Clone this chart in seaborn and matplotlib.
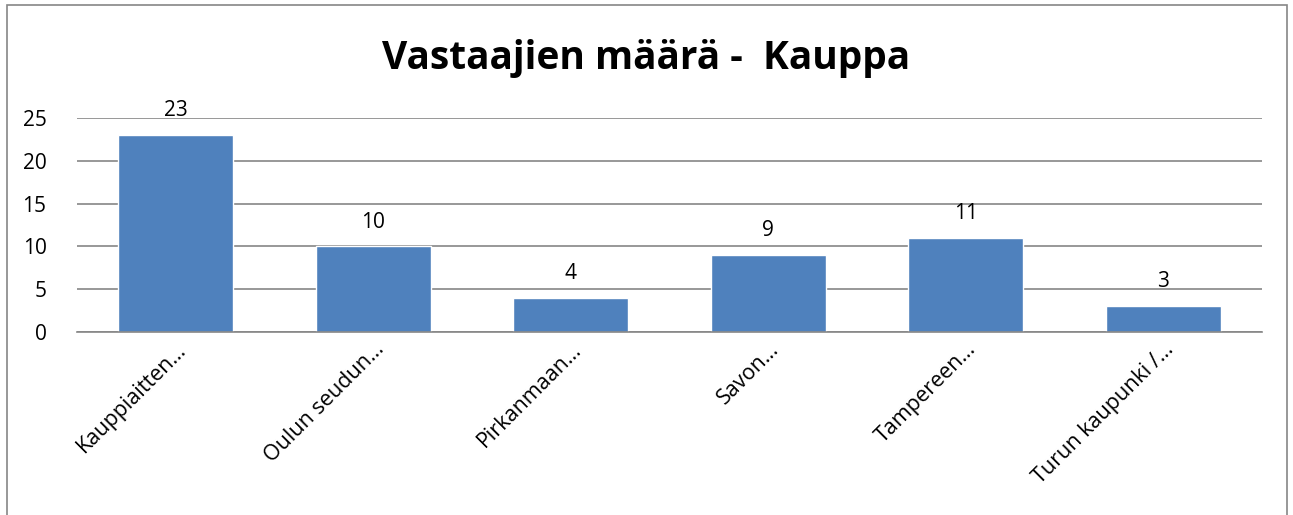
import matplotlib
matplotlib.use("Agg")
import matplotlib.pyplot as plt
import seaborn as sns
import pandas as pd
from matplotlib.patches import Rectangle

categories = ["Kauppiaitten…", "Oulun seudun…", "Pirkanmaan…", "Savon…", "Tampereen…", "Turun kaupunki /…"]
values = [23, 10, 4, 9, 11, 3]
yticks = [0, 5, 10, 15, 20, 25]
title = "Vastaajien määrä -  Kauppa"

sns.set_theme(style="white")
plt.rcParams['font.family'] = ['Open Sans', 'DejaVu Sans']
plt.rcParams['text.color'] = 'black'
plt.rcParams['xtick.color'] = 'black'
plt.rcParams['ytick.color'] = 'black'

df = pd.DataFrame({"cat": categories, "val": values})

fig = plt.figure(figsize=(12.93, 5.15), dpi=100)
ax = fig.add_axes([77/1293, 1-332/515, (1262-77)/1293, (332-118)/515])
sns.barplot(data=df, x="cat", y="val", color="#4F81BD", saturation=1, width=0.58, ax=ax)

ax.set_ylim(0, 25)
ax.set_yticks(yticks)
ax.set_yticklabels([str(t) for t in yticks], fontsize=15)
ax.yaxis.grid(True, color="#868686", linewidth=1.2)
ax.set_axisbelow(True)
for s in ["left", "right", "top"]:
    ax.spines[s].set_visible(False)
ax.spines["bottom"].set_color("#868686")
ax.spines["bottom"].set_linewidth(1.2)
ax.tick_params(axis="both", length=0)
ax.tick_params(axis="y", pad=22)
ax.set_xlabel("")
ax.set_ylabel("")
ax.set_xticks(range(len(categories)))
ax.set_xticklabels(categories, rotation=45, ha="right", rotation_mode="anchor", fontsize=15.5)
for lbl in ax.get_xticklabels():
    lbl.set_x(lbl.get_position()[0])
ax.tick_params(axis="x", pad=5)

for c in ax.containers:
    ax.bar_label(c, labels=[str(v) for v in values], padding=10, fontsize=15, color="black")

fig.text(0.5, 1-59/515, title, ha="center", va="center", fontsize=28, fontweight="bold", color="black")

fig.patches.append(Rectangle((7/1293, -0.1), (1287-7)/1293, 1.1-5/515, transform=fig.transFigure,
                             fill=False, edgecolor="#868686", linewidth=1.2, clip_on=False))

fig.savefig("out.png", dpi=100, facecolor="white")
